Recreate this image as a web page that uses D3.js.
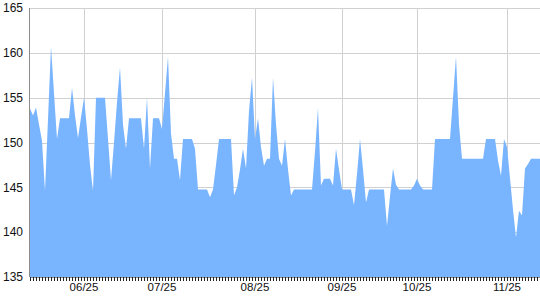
<!DOCTYPE html>
<html>
<head>
<meta charset="utf-8">
<script src="https://cdn.jsdelivr.net/npm/d3@7"></script>
<style>
    body { margin: 0; background: #fff; }
    svg { display: block; font-family: "Liberation Sans", Arial, sans-serif; }
</style>
</head>
<body>
<svg id="chart" width="540" height="300"></svg>
<script>
// one value per tick on the x axis
const prices = [
    153.8, 153.0, 153.9, 152.0, 150.2, 144.6, 152.6, 160.7, 155.5, 150.4,
    152.7, 152.7, 152.7, 152.7, 156.1, 153.0, 150.5, 152.8, 155.0, 151.5,
    147.5, 144.6, 155.0, 155.0, 155.0, 155.0, 150.4, 145.8, 150.0, 154.5,
    158.4, 152.0, 149.3, 152.7, 152.7, 152.7, 152.7, 152.7, 149.3, 155.0,
    147.1, 152.7, 152.7, 152.7, 151.5, 155.5, 159.55, 151.0, 148.2, 148.2,
    145.8, 150.4, 150.4, 150.4, 150.4, 149.3, 144.75, 144.75, 144.75, 144.75,
    143.9, 144.75, 147.5, 150.4, 150.4, 150.4, 150.4, 150.4, 144.1, 145.0,
    147.0, 149.3, 147.1, 153.5, 157.25, 150.4, 152.7, 149.5, 147.4, 148.2,
    148.2, 157.25, 152.0, 148.2, 147.4, 150.4, 147.0, 144.1, 144.75, 144.75,
    144.75, 144.75, 144.75, 144.75, 144.75, 149.0, 153.85, 145.2, 145.95, 145.95,
    145.95, 145.2, 149.3, 147.0, 144.75, 144.75, 144.75, 144.75, 143.0, 146.5,
    150.4, 147.0, 143.3, 144.75, 144.75, 144.75, 144.75, 144.75, 144.75, 140.7,
    144.0, 147.1, 145.3, 144.75, 144.75, 144.75, 144.75, 144.75, 145.2, 145.95,
    145.2, 144.75, 144.75, 144.75, 144.75, 150.4, 150.4, 150.4, 150.4, 150.4,
    150.4, 155.0, 159.55, 152.0, 148.2, 148.2, 148.2, 148.2, 148.2, 148.2,
    148.2, 148.2, 150.4, 150.4, 150.4, 150.4, 148.0, 146.3, 150.4, 149.5,
    146.0, 142.5, 139.4, 142.4, 141.85, 147.1, 147.6, 148.2, 148.2, 148.2,
    148.2
];
const monthIndex = [18, 44, 75, 104, 129, 159];
const monthLabels = ["06/25", "07/25", "08/25", "09/25", "10/25", "11/25"];
const yTicks = [135, 140, 145, 150, 155, 160, 165];

const width = 540, height = 300;
const margin = {top: 8, right: 0, bottom: 23, left: 30};
const svg = d3.select("#chart");

const x = d3.scaleLinear()
    .domain([0, prices.length - 1])
    .range([margin.left, width - margin.right]);
const y = d3.scaleLinear()
    .domain([135, 165])
    .range([height - margin.bottom, margin.top]);

const crisp = v => Math.round(v) + 0.5;

//grid first, the area covers it
const grid = svg.append("g").attr("stroke", "#d0d0d0").attr("stroke-width", 1);
grid.selectAll(".hgrid")
    .data(yTicks.filter(d => d > 135))
    .join("line")
        .attr("x1", margin.left)
        .attr("x2", width)
        .attr("y1", d => crisp(y(d)))
        .attr("y2", d => crisp(y(d)));
grid.selectAll(".vgrid")
    .data(monthIndex)
    .join("line")
        .attr("x1", d => crisp(x(d)))
        .attr("x2", d => crisp(x(d)))
        .attr("y1", y(165))
        .attr("y2", y(135));

const area = d3.area()
    .x((d, i) => x(i))
    .y0(y(135))
    .y1(d => y(d));

svg.append("path")
    .datum(prices)
    .attr("fill", "#79b4ff")
    .attr("d", area);

//bottom axis: a tick per point, labels only at month marks
const xAxis = svg.append("g")
    .attr("transform", `translate(0,${Math.round(y(135))})`)
    .call(d3.axisBottom(x)
        .tickValues(d3.range(prices.length))
        .tickSize(4)
        .tickSizeOuter(0)
        .tickFormat(""));
xAxis.select(".domain").attr("stroke", "#8c8c8c");
xAxis.selectAll(".tick line").attr("stroke", "#222");

svg.append("g")
    .selectAll("text")
    .data(monthIndex)
    .join("text")
        .attr("x", d => x(d))
        .attr("y", 291)
        .attr("text-anchor", "middle")
        .attr("font-size", 11.5)
        .attr("fill", "#111")
        .text((d, i) => monthLabels[i]);

//left axis: plain line with labels
svg.append("line")
    .attr("x1", margin.left - 0.5)
    .attr("x2", margin.left - 0.5)
    .attr("y1", y(165))
    .attr("y2", y(135))
    .attr("stroke", "#8c8c8c");

svg.append("g")
    .selectAll("text")
    .data(yTicks)
    .join("text")
        .attr("x", 23)
        .attr("y", d => y(d))
        .attr("dy", "0.35em")
        .attr("text-anchor", "end")
        .attr("font-size", 12)
        .attr("fill", "#111")
        .text(d => d);
</script>
</body>
</html>
